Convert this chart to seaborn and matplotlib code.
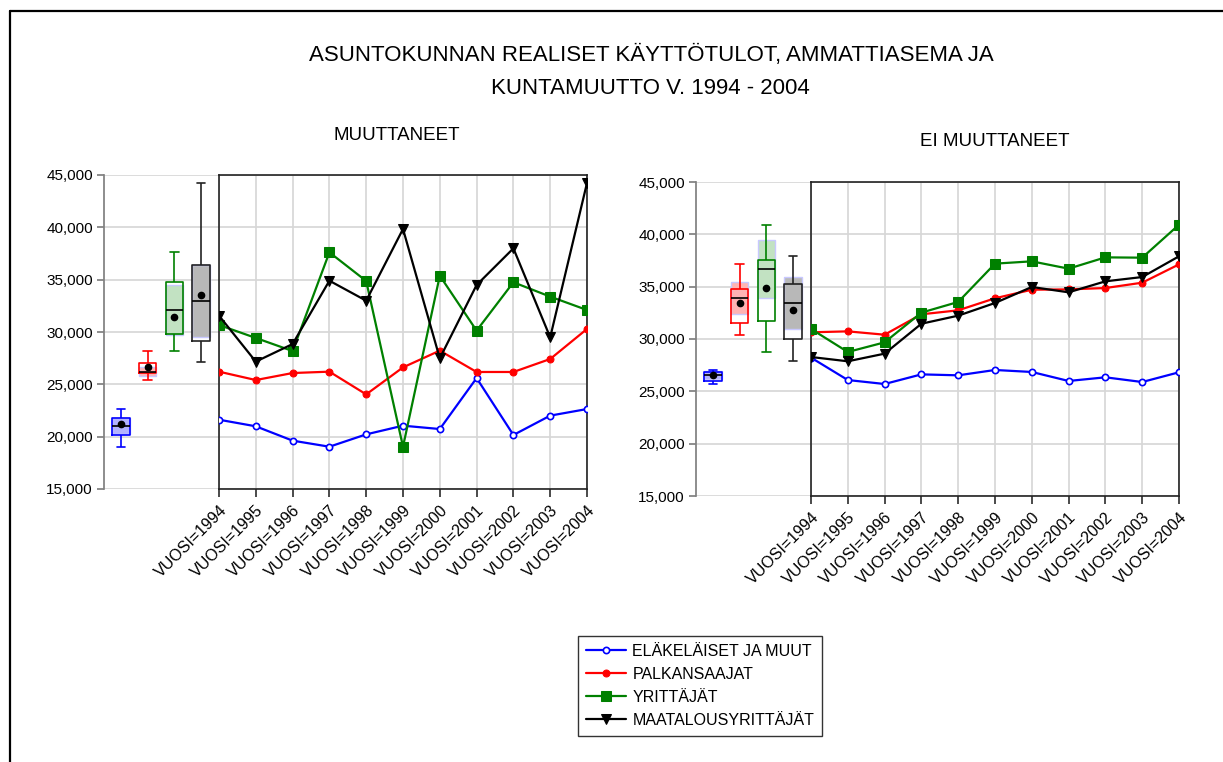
"""
Asuntokunnan reaaliset käyttötulot ammattiaseman ja kuntamuuton mukaan 1994-2004.
Laatikkokuvio + aikasarja, kaksi paneelia (muuttaneet / ei muuttaneet).
"""

import numpy as np
import pandas as pd
import matplotlib
matplotlib.use("Agg")
import matplotlib.pyplot as plt
import matplotlib.font_manager as fm
from matplotlib.lines import Line2D
from matplotlib.ticker import StrMethodFormatter
import seaborn as sns

# ---- data ----
vuodet = [1994, 1995, 1996, 1997, 1998, 1999, 2000, 2001, 2002, 2003, 2004]
ryhmat = ["ELÄKELÄISET JA MUUT", "PALKANSAAJAT", "YRITTÄJÄT", "MAATALOUSYRITTÄJÄT"]

# muuttaneet
muutt_elakelaiset = [21620, 20990, 19620, 19040, 20220, 21050, 20730, 25600, 20160, 22010, 22640]
muutt_palkansaajat = [26210, 25410, 26080, 26210, 24040, 26620, 28220, 26180, 26180, 27420, 30290]
muutt_yrittajat = [30670, 29430, 28180, 37610, 34870, 19040, 35380, 30130, 34750, 33380, 32100]
muutt_maatalous = [31560, 27170, 28850, 34900, 32990, 39840, 27480, 34490, 37990, 29490, 44240]

# ei muuttaneet
ei_elakelaiset = [28220, 26080, 25700, 26620, 26530, 27040, 26850, 25990, 26340, 25890, 26820]
ei_palkansaajat = [30640, 30730, 30410, 32360, 32740, 33890, 34710, 34740, 34870, 35380, 37130]
ei_yrittajat = [30960, 28760, 29680, 32520, 33540, 37200, 37420, 36720, 37800, 37770, 40920]
ei_maatalous = [28280, 27870, 28600, 31460, 32230, 33440, 34970, 34460, 35510, 35920, 37900]

y_ticks = [15000, 20000, 25000, 30000, 35000, 40000, 45000]

# ---- tyylit ----
viivavarit = ["#0000ff", "#ff0000", "#008000", "#000000"]
laatikkovarit = ["#0000ff", "#ff0000", "#008000", "#222222"]
varjostus = ["#b3b3ff", "#ffb3b3", "#c2e2c2", "#b8b8b8"]
merkit = [
    dict(marker="o", markersize=4.5, markerfacecolor="white", markeredgewidth=1.2),
    dict(marker="o", markersize=5),
    dict(marker="s", markersize=6.5),
    dict(marker="v", markersize=7.5),
]

sns.set_theme(style="white")
nimet = {f.name for f in fm.fontManager.ttflist}
kapea = "Liberation Sans Narrow" if "Liberation Sans Narrow" in nimet else "Liberation Sans"
otsikko_koko = 18 if kapea == "Liberation Sans Narrow" else 16
ali_koko = 15 if kapea == "Liberation Sans Narrow" else 13.5
plt.rcParams["font.family"] = ["Liberation Sans", "DejaVu Sans"]
plt.rcParams.update({"text.color": "black", "axes.labelcolor": "black",
                     "xtick.color": "black", "ytick.color": "black"})

W, H = 1223, 762
fig = plt.figure(figsize=(W / 100, H / 100), dpi=100)
fig.patch.set_facecolor("white")


def rect(x0, y0, x1, y1):
    return [x0 / W, 1 - y1 / H, (x1 - x0) / W, (y1 - y0) / H]


def laatikot(ax, sarjat):
    df = pd.DataFrame({
        "ryhma": np.repeat(ryhmat, len(vuodet)),
        "tulot": np.concatenate(sarjat),
    })
    # laatikon pohja ja mediaanin luottamusväli (varjostus)
    for i, s in enumerate(sarjat):
        q1, med, q3 = np.percentile(s, [25, 50, 75])
        ci = 1.57 * (q3 - q1) / np.sqrt(len(s))
        ax.bar(i, q3 - q1, bottom=q1, width=0.65, color="white", zorder=2)
        ax.bar(i, 2 * ci, bottom=med - ci, width=0.65, color=varjostus[i],
               edgecolor="#c8c8ff", linewidth=1, zorder=2.5)
    sns.boxplot(data=df, x="ryhma", y="tulot", hue="ryhma", order=ryhmat,
                hue_order=ryhmat, palette=laatikkovarit, fill=False, width=0.65,
                showfliers=False, showmeans=True, linewidth=1.2, legend=False,
                medianprops=dict(color="black", linewidth=1.2),
                meanprops=dict(marker="o", markerfacecolor="black",
                               markeredgecolor="black", markersize=4.5),
                ax=ax, zorder=3)
    ax.set_xlim(-0.64, 3.68)
    ax.set_ylim(15000, 45000)
    ax.set_yticks(y_ticks)
    ax.yaxis.set_major_formatter(StrMethodFormatter("{x:,.0f}"))
    ax.set_xticks([])
    ax.set_xlabel("")
    ax.set_ylabel("")
    for k in ["top", "right", "bottom"]:
        ax.spines[k].set_visible(False)
    ax.spines["left"].set_color("#808080")
    ax.tick_params(axis="y", direction="out", length=5, color="#808080",
                   left=True, labelsize=11, pad=3, labelcolor="black")
    ax.grid(axis="y", color="#d6d6d6", linewidth=1.2)
    ax.set_axisbelow(True)
    ax.patch.set_alpha(0)


def viivat(ax, sarjat):
    for i, s in enumerate(sarjat):
        sns.lineplot(x=vuodet, y=s, ax=ax, color=viivavarit[i], linewidth=1.6,
                     markeredgecolor=viivavarit[i], label=ryhmat[i], zorder=3,
                     **merkit[i])
    kahvat = ax.get_legend_handles_labels()
    ax.get_legend().remove()
    ax.set_xlim(1994, 2004)
    ax.set_ylim(15000, 45000)
    ax.set_yticks(y_ticks)
    ax.set_xticks(vuodet)
    ax.set_xticklabels([f"VUOSI={v}" for v in vuodet], rotation=45, ha="right",
                       rotation_mode="anchor", fontsize=11.5)
    ax.tick_params(axis="y", length=0, labelleft=False)
    ax.tick_params(axis="x", direction="out", length=6, color="#333333",
                   bottom=True, pad=4)
    for sp in ax.spines.values():
        sp.set_color("#222222")
        sp.set_linewidth(1.2)
    ax.grid(True, color="#d6d6d6", linewidth=1.2)
    ax.set_axisbelow(True)
    return kahvat


# vasen paneeli: muuttaneet
ax_lb = fig.add_axes(rect(104, 175, 219, 489))
ax_ll = fig.add_axes(rect(219, 175, 587, 489))
laatikot(ax_lb, [muutt_elakelaiset, muutt_palkansaajat, muutt_yrittajat, muutt_maatalous])
kahvat, tekstit = viivat(ax_ll, [muutt_elakelaiset, muutt_palkansaajat, muutt_yrittajat, muutt_maatalous])

# oikea paneeli: ei muuttaneet
ax_rb = fig.add_axes(rect(696, 182, 811, 496))
ax_rl = fig.add_axes(rect(811, 182, 1179, 496))
laatikot(ax_rb, [ei_elakelaiset, ei_palkansaajat, ei_yrittajat, ei_maatalous])
viivat(ax_rl, [ei_elakelaiset, ei_palkansaajat, ei_yrittajat, ei_maatalous])

# otsikot
fig.text(651 / W, 1 - 55 / H, "ASUNTOKUNNAN REALISET KÄYTTÖTULOT, AMMATTIASEMA JA",
         ha="center", va="center", fontsize=otsikko_koko, family=[kapea, "DejaVu Sans"])
fig.text(650 / W, 1 - 88 / H, "KUNTAMUUTTO V. 1994 - 2004",
         ha="center", va="center", fontsize=otsikko_koko, family=[kapea, "DejaVu Sans"])
fig.text(397 / W, 1 - 135 / H, "MUUTTANEET", ha="center", va="center",
         fontsize=ali_koko, family=[kapea, "DejaVu Sans"])
fig.text(995 / W, 1 - 141 / H, "EI MUUTTANEET", ha="center", va="center",
         fontsize=ali_koko, family=[kapea, "DejaVu Sans"])

# selite
leg = fig.legend(kahvat, tekstit, loc="upper left",
                 bbox_to_anchor=(578 / W, 1 - 636 / H), borderaxespad=0,
                 fontsize=11.5, frameon=True, fancybox=False, shadow=False,
                 handlelength=2.5, handletextpad=0.4, labelspacing=0.5,
                 borderpad=0.5)
leg.get_frame().set_edgecolor("black")
leg.get_frame().set_linewidth(1.0)

# ulkokehys
fig.add_artist(Line2D([10 / W, 10 / W], [0, 1 - 11 / H], transform=fig.transFigure,
                      color="black", linewidth=1.6))
fig.add_artist(Line2D([10 / W, 1], [1 - 11 / H, 1 - 11 / H], transform=fig.transFigure,
                      color="black", linewidth=1.6))

fig.savefig("out.png", dpi=100)
